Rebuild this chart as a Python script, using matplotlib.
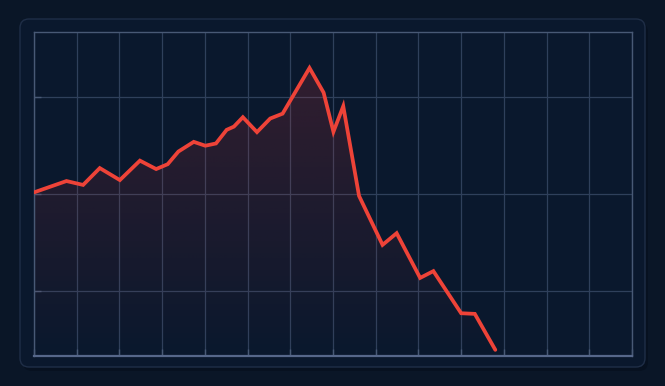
import numpy as np
import matplotlib

matplotlib.use("Agg")
import matplotlib.pyplot as plt
from matplotlib.patches import FancyBboxPatch
from matplotlib.colors import to_rgb

# line vertices (x in grid columns, y in 0..100)
x_vals = [0.0, 0.76, 1.15, 1.54, 2.01, 2.48, 2.86, 3.13, 3.38, 3.74,
          4.01, 4.26, 4.51, 4.68, 4.89, 5.22, 5.53, 5.82, 6.45, 6.78,
          7.01, 7.24, 7.61, 8.16, 8.49, 9.04, 9.35, 10.0, 10.32, 10.80]
y_vals = [50.5, 54.0, 52.8, 58.0, 54.3, 60.3, 57.7, 59.2, 63.1, 66.1,
          64.9, 65.6, 69.8, 70.8, 73.7, 69.1, 73.3, 74.8, 88.9, 81.3,
          69.2, 77.1, 49.4, 34.3, 37.9, 24.1, 26.2, 13.2, 13.0, 1.9]
x_grid = list(range(15))
y_grid = [20, 50, 80]

BG = "#0a1627"
PANEL = "#0a182d"
GRID = "#2f405b"
FRAME = "#485975"
RED = "#ee4338"

fig = plt.figure(figsize=(6.65, 3.86), dpi=100)
fig.patch.set_facecolor(BG)
W, H = 665, 386

# rounded card behind the plot, in its own background axes
bg_ax = fig.add_axes([0, 0, 1, 1], zorder=-1)
bg_ax.set_axis_off()
bg_ax.set_xlim(0, W)
bg_ax.set_ylim(H, 0)
shadow = FancyBboxPatch((23, 23), 625, 348,
                        boxstyle="round,pad=0,rounding_size=9",
                        facecolor="#071120", edgecolor="none")
bg_ax.add_patch(shadow)
card = FancyBboxPatch((20, 19), 625, 348,
                      boxstyle="round,pad=0,rounding_size=9",
                      facecolor=PANEL, edgecolor="#1f2e47", lw=1.0)
bg_ax.add_patch(card)

ax = fig.add_axes([34 / W, 1 - 356 / H, 598 / W, 324 / H])
ax.set_facecolor(PANEL)
ax.set_xlim(0, 14)
ax.set_ylim(0, 100)
ax.set_xticks(x_grid)
ax.set_yticks(y_grid)
ax.set_xticklabels([])
ax.set_yticklabels([])
ax.grid(True, color=GRID, lw=0.9)
ax.set_axisbelow(True)
ax.tick_params(direction="in", length=5, width=1, color=FRAME,
               bottom=True, left=True, top=False, right=False)
for side in ("top", "left", "right"):
    ax.spines[side].set_color(FRAME)
    ax.spines[side].set_linewidth(1.0)
ax.spines["bottom"].set_color("#56678a")
ax.spines["bottom"].set_linewidth(1.6)

# gradient fill under the line
poly = ax.fill_between(x_vals, y_vals, 0, color="none", lw=0)
r, g, b = to_rgb("#d8373a")
grad = np.zeros((256, 2, 4))
grad[..., 0], grad[..., 1], grad[..., 2] = r, g, b
alpha = np.linspace(0.2, 0.0, 256)[:, None]
grad[..., 3] = alpha * np.ones((1, 2))
img = ax.imshow(grad, extent=[0, 14, 0, 90], aspect="auto",
                origin="upper", zorder=2)
img.set_clip_path(poly.get_paths()[0], transform=ax.transData)

ax.plot(x_vals, y_vals, color=RED, lw=2.7, solid_joinstyle="miter",
        solid_capstyle="round", zorder=3)
ax.set_xlim(0, 14)
ax.set_ylim(0, 100)

fig.savefig("out.png", dpi=100, facecolor=BG)
